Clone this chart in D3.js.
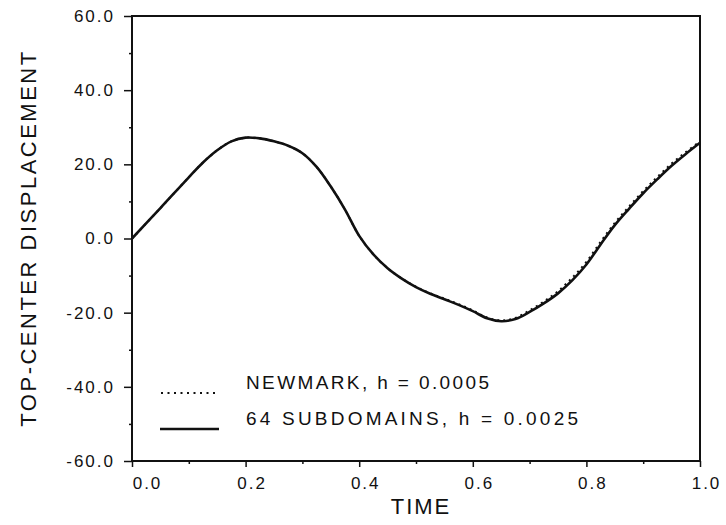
<!DOCTYPE html>
<html><head><meta charset="utf-8">
<script src="https://cdn.jsdelivr.net/npm/d3@7"></script>
<style>
html,body{margin:0;padding:0;background:#fff;}
text{font-family:"Liberation Sans",Arial,Helvetica,sans-serif;fill:#111;}
</style></head>
<body>
<script>
const time = [0, 0.05, 0.10, 0.125, 0.15, 0.175, 0.20, 0.225, 0.25, 0.275, 0.30, 0.325, 0.35, 0.375, 0.40, 0.425, 0.45, 0.475, 0.50, 0.525, 0.55, 0.575, 0.60, 0.625, 0.65, 0.675, 0.70, 0.725, 0.75, 0.775, 0.80, 0.825, 0.85, 0.875, 0.90, 0.925, 0.95, 0.975, 1.0];
const subdomains = [0, 8.2, 16.5, 20.5, 23.8, 26.2, 27.2, 27.0, 26.2, 25.0, 23.0, 19.3, 14.0, 7.8, 0.7, -4.3, -8.0, -10.8, -13.1, -14.9, -16.4, -17.9, -19.6, -21.5, -22.3, -21.7, -19.8, -17.5, -14.8, -11.3, -7.0, -1.6, 3.6, 8.0, 12.2, 16.0, 19.6, 22.8, 25.8];
const newmark = [0, 8.2, 16.5, 20.5, 23.8, 26.2, 27.2, 27.0, 26.2, 25.0, 23.0, 19.3, 14.0, 7.8, 0.7, -4.3, -8.0, -10.8, -13.0, -14.8, -16.2, -17.7, -19.4, -21.3, -22.1, -21.4, -19.4, -17.0, -14.2, -10.6, -6.3, -0.9, 4.2, 8.6, 12.8, 16.6, 20.2, 23.3, 26.2];
const xTicks = [0, 0.2, 0.4, 0.6, 0.8, 1.0];
const xMinor = [0.1, 0.3, 0.5, 0.7, 0.9];
const yTicks = [-60, -40, -20, 0, 20, 40, 60];
const yMinor = [-50, -30, -10, 10, 30, 50];
const legendLabels = ["NEWMARK, h = 0.0005", "64 SUBDOMAINS, h = 0.0025"];
const xTitle = "TIME";
const yTitle = "TOP-CENTER DISPLACEMENT";

const W = 726, H = 525;
const L = 132, R = 700, T = 16, B = 461;
const svg = d3.select("body").append("svg").attr("width", W).attr("height", H);
const x = d3.scaleLinear().domain([0, 1]).range([L, R]);
const y = d3.scaleLinear().domain([-60, 60]).range([B, T]);

// frame
svg.append("rect").attr("x", L).attr("y", T).attr("width", R - L).attr("height", B - T)
  .attr("fill", "none").attr("stroke", "#111").attr("stroke-width", 2);

// axes
const f1 = d3.format(".1f");
const fmt = v => f1(v).replace("\u2212", "-");
const xAxis = svg.append("g").attr("transform", `translate(0,${B})`)
  .call(d3.axisBottom(x).tickValues(xTicks).tickFormat(fmt).tickSize(6).tickPadding(10));
const xMin = svg.append("g").attr("transform", `translate(0,${B})`)
  .call(d3.axisBottom(x).tickValues(xMinor).tickFormat("").tickSize(3));
const yAxis = svg.append("g").attr("transform", `translate(${L},0)`)
  .call(d3.axisLeft(y).tickValues(yTicks).tickFormat(fmt).tickSize(8).tickPadding(9));
const yMin = svg.append("g").attr("transform", `translate(${L},0)`)
  .call(d3.axisLeft(y).tickValues(yMinor).tickFormat("").tickSize(3));
[xAxis, xMin, yAxis, yMin].forEach(g => {
  g.select(".domain").remove();
  g.selectAll("line").attr("stroke", "#111").attr("stroke-width", 1.5);
  g.selectAll("text").style("font-size", "17px").style("letter-spacing", "2px").attr("fill", "#111");
});
xAxis.selectAll("text").attr("dx", (d, i) => i === 0 ? 15 : 6);

// lines
const line = d3.line().x((d, i) => x(time[i])).y(d => y(d)).curve(d3.curveCatmullRom.alpha(0.5));
svg.append("path").attr("d", line(subdomains)).attr("fill", "none")
  .attr("stroke", "#111").attr("stroke-width", 2.6);
svg.append("path").attr("d", line(newmark)).attr("fill", "none")
  .attr("stroke", "#111").attr("stroke-width", 2).attr("stroke-dasharray", "2,4");

// legend
const lg = svg.append("g");
lg.append("line").attr("x1", 161).attr("x2", 216).attr("y1", 393).attr("y2", 393)
  .attr("stroke", "#111").attr("stroke-width", 2).attr("stroke-dasharray", "2,4.5");
lg.append("line").attr("x1", 160).attr("x2", 219).attr("y1", 429).attr("y2", 429)
  .attr("stroke", "#111").attr("stroke-width", 2.6);
const legLen = [243, 332];
lg.selectAll("text.lab").data(legendLabels).enter().append("text")
  .attr("x", 246).attr("y", (d, i) => 389 + i * 36)
  .attr("textLength", (d, i) => legLen[i]).attr("lengthAdjust", "spacing")
  .style("font-size", "19px").text(d => d);

// titles
svg.append("text").attr("x", 421).attr("y", 514).attr("text-anchor", "middle")
  .style("font-size", "22px").style("letter-spacing", "2px").text(xTitle);
svg.append("text").attr("transform", "translate(36,238) rotate(-90)").attr("text-anchor", "middle")
  .style("font-size", "22px").style("letter-spacing", "2.5px").text(yTitle);
</script>
</body></html>
